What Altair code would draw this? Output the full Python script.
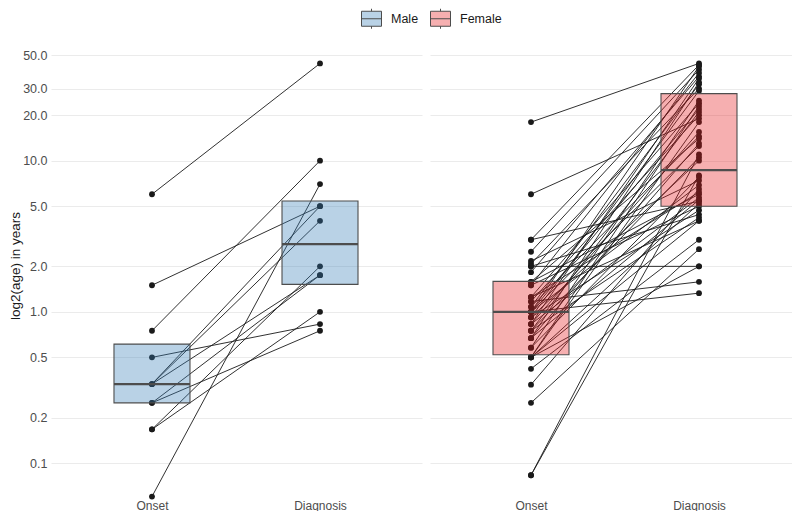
import altair as alt
import pandas as pd

stages = ["Onset", "Diagnosis"]
sexes = ["Male", "Female"]
box_colors = {"Male": "#377EB8", "Female": "#E41A1C"}
legend_colors = ["#B9D2E6", "#F6AFB0"]

# paired ages (years) per subject
male_onset = [6, 1.5, 0.75, 0.5, 0.333, 0.333, 0.333, 0.25, 0.25, 0.167, 0.167, 0.06]
male_diagnosis = [44, 5, 10, 0.83, 5, 4, 1.75, 1.75, 0.75, 2, 1.0, 7]

female_onset = [18, 6, 3, 3, 2.5, 2.17, 2.08, 2.0, 1.83, 1.58, 1.58, 1.5, 1.5, 1.25, 1.25,
                1.17, 1.08, 1.0, 1.0, 1.0, 1.0, 1.0, 0.92, 0.92, 0.83, 0.83, 0.83, 0.75, 0.75,
                0.67, 0.67, 0.58, 0.58, 0.5, 0.5, 0.5, 0.5, 0.42, 0.33, 0.25, 0.083, 0.083,
                1.08, 1.17, 0.92, 0.75, 1.25, 2.0, 0.67, 0.5]
female_diagnosis = [44, 19, 43, 5.4, 40, 7.4, 30, 4.4, 36, 14, 6.0, 38, 5.0, 24, 4.0,
                    1.58, 32, 1.33, 22, 12.5, 6.9, 42, 10, 29, 15.5, 5.7, 35, 4.2, 21,
                    13, 33, 7.8, 25, 2.0, 23, 5.2, 18, 3.0, 6.5, 2.6, 11, 8.0,
                    14.5, 20, 4.7, 10.5, 6.2, 2.0, 5.5, 4.0]

# box statistics: [Onset, Diagnosis]
male_q1 = [0.25, 1.52]
male_median = [0.333, 2.81]
male_q3 = [0.612, 5.41]
female_q1 = [0.52, 5.0]
female_median = [1.0, 8.67]
female_q3 = [1.59, 27.8]

y_ticks = [0.1, 0.2, 0.5, 1, 2, 5, 10, 20, 30, 50]

rows = []
for sex, ons, dia in [("Male", male_onset, male_diagnosis), ("Female", female_onset, female_diagnosis)]:
    for i, (o, d) in enumerate(zip(ons, dia)):
        rows.append({"id": f"{sex}{i}", "sex": sex, "stage": "Onset", "value": o})
        rows.append({"id": f"{sex}{i}", "sex": sex, "stage": "Diagnosis", "value": d})
df = pd.DataFrame(rows)

brows = []
for sex, q1, md, q3 in [("Male", male_q1, male_median, male_q3), ("Female", female_q1, female_median, female_q3)]:
    for j, st in enumerate(stages):
        brows.append({"sex": sex, "stage": st, "q1": q1[j], "median": md[j], "q3": q3[j]})
bdf = pd.DataFrame(brows)

yscale = alt.Scale(type="log", base=2, domain=[0.0596, 68.9], nice=False, zero=False)
BOXW = 76


def panel(sex, show_y, width, pad, align):
    pts = df[df.sex == sex]
    box = bdf[bdf.sex == sex]
    xscale = alt.Scale(type="point", padding=pad, align=align)
    x = alt.X("stage:N", sort=stages, scale=xscale,
              axis=alt.Axis(title=None, labelAngle=0, domain=False, ticks=False, grid=False,
                            labelPadding=3, labelFontSize=12, labelColor="#4D4D4D"))
    if show_y:
        yaxis = alt.Axis(values=y_ticks, format=".1f", title="log2(age) in years", domain=False,
                         ticks=False, grid=True, labelPadding=4, labelFontSize=12.5,
                         labelColor="#4D4D4D", titleFontSize=13.5, titleFontWeight="normal",
                         titleColor="#1A1A1A", titlePadding=0)
    else:
        yaxis = alt.Axis(values=y_ticks, labels=False, title=None, domain=False, ticks=False, grid=True)
    y = alt.Y("value:Q", scale=yscale, axis=yaxis)
    lines = alt.Chart(pts).mark_line(color="#1A1A1A", strokeWidth=0.9).encode(
        x=x, y=y, detail="id:N")
    points = alt.Chart(pts).mark_circle(size=34, color="#1A1A1A", opacity=1).encode(x=x, y=y)
    # invisible layer that only carries the legend
    legend_layer = alt.Chart(box).mark_bar(width=BOXW, fillOpacity=0, strokeOpacity=0).encode(
        x=x, y=alt.Y("q1:Q", scale=yscale, axis=yaxis), y2="q3:Q",
        fill=alt.Fill("sex:N", scale=alt.Scale(domain=sexes, range=legend_colors),
                      legend=alt.Legend(title=None, orient="none", direction="horizontal",
                                        legendX=310, legendY=-26, labelFontSize=12.5,
                                        labelColor="#1A1A1A", symbolSize=400, columnPadding=9,
                                        labelOffset=9,
                                        symbolStrokeColor="#4D4D4D", symbolStrokeWidth=1,
                                        symbolType="M-1,-0.75H1V0.75H-1Z M-1,0H1 M0,-0.75V-1 M0,0.75V1")))
    boxes = alt.Chart(box).mark_bar(width=BOXW, fill=box_colors[sex], fillOpacity=0.35,
                                    stroke="#4D4D4D", strokeWidth=1.1).encode(
        x=x, y=alt.Y("q1:Q", scale=yscale, axis=yaxis), y2="q3:Q")
    med = alt.Chart(box).mark_tick(size=BOXW, thickness=2.2, color="#4D4D4D", opacity=1).encode(
        x=x, y=alt.Y("median:Q", scale=yscale, axis=yaxis))
    return alt.layer(legend_layer, lines, points, boxes, med).properties(width=width, height=463)


chart = alt.hconcat(
    panel("Male", True, 371, 0.604, 0.4975),
    panel("Female", False, 362, 0.5774, 0.5206),
    spacing=8,
).resolve_scale(x="independent").properties(
    padding={"left": 0, "top": 0, "right": 0, "bottom": 0}
).configure_view(stroke=None).configure_axis(
    gridColor="#EBEBEB", gridWidth=1.1, labelFont="Liberation Sans", titleFont="Liberation Sans"
).configure_legend(labelFont="Liberation Sans")

chart.save("out.html", embed_options={"renderer": "svg", "actions": False})
